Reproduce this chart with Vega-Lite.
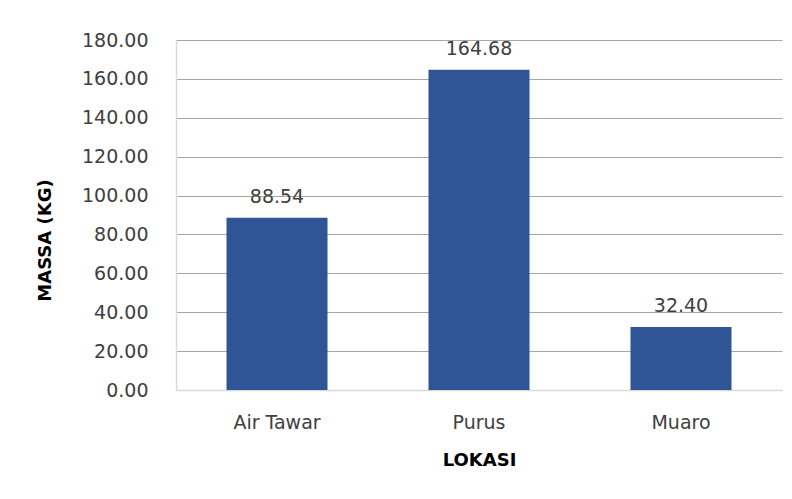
{
  "$schema": "https://vega.github.io/schema/vega-lite/v6.json",
  "autosize": "none",
  "width": 606,
  "height": 350,
  "padding": {"left": 176, "top": 40, "right": 10, "bottom": 109},
  "background": "white",
  "config": {
    "view": {"stroke": null},
    "font": "DejaVu Sans"
  },
  "data": {
    "values": [
      {"lokasi": "Air Tawar", "massa": 88.54},
      {"lokasi": "Purus", "massa": 164.68},
      {"lokasi": "Muaro", "massa": 32.40}
    ]
  },
  "encoding": {
    "x": {
      "field": "lokasi",
      "type": "nominal",
      "sort": null,
      "scale": {"paddingInner": 0.5, "paddingOuter": 0.25},
      "axis": {
        "title": "LOKASI",
        "titleFont": "DejaVu Sans",
        "titleFontSize": 18,
        "titleFontWeight": "bold",
        "titleColor": "#000000",
        "titlePadding": 19,
        "labelAngle": 0,
        "labelFontSize": 19,
        "labelColor": "#404040",
        "labelPadding": 23,
        "ticks": false,
        "domain": true,
        "domainColor": "#d9d9d9",
        "domainWidth": 1.5
      }
    },
    "y": {
      "field": "massa",
      "type": "quantitative",
      "scale": {"domain": [0, 180]},
      "axis": {
        "title": "MASSA (KG)",
        "titleFont": "DejaVu Sans",
        "titleFontSize": 18,
        "titleFontWeight": "bold",
        "titleColor": "#000000",
        "titlePadding": 27,
        "titleY": 200,
        "values": [0, 20, 40, 60, 80, 100, 120, 140, 160, 180],
        "format": ".2f",
        "labelFontSize": 19,
        "labelColor": "#404040",
        "labelPadding": 28,
        "ticks": false,
        "domain": true,
        "domainColor": "#d9d9d9",
        "domainWidth": 1.5,
        "grid": true,
        "gridColor": "#a6a6a6",
        "gridWidth": 1.2
      }
    }
  },
  "layer": [
    {"mark": {"type": "bar", "color": "#2F5597"}},
    {
      "mark": {"type": "text", "baseline": "bottom", "dy": -11, "fontSize": 19, "color": "#404040"},
      "encoding": {"text": {"field": "massa", "type": "quantitative", "format": ".2f"}}
    }
  ]
}
